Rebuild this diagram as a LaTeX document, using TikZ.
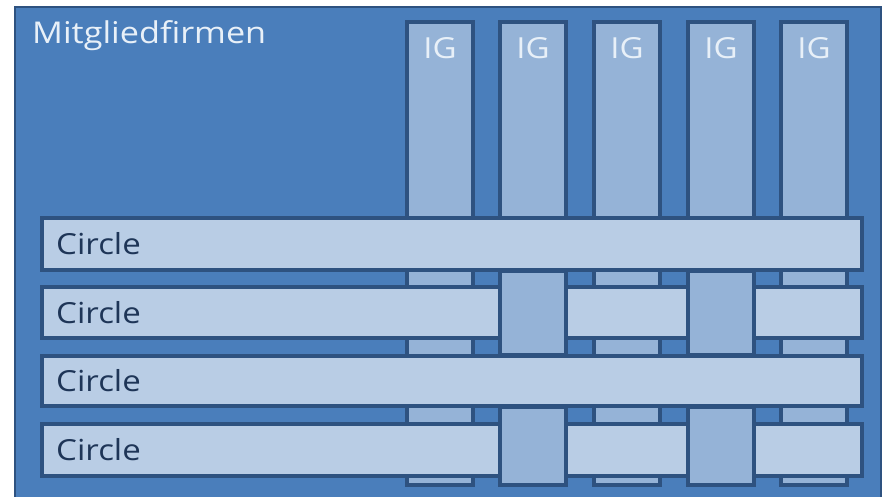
\documentclass[tikz,border=0pt]{standalone}
\usepackage{fontspec}
\setmainfont{Carlito}
\newfontfamily\labelfont[FakeStretch=1.14]{Open Sans}
\definecolor{bgblue}{HTML}{4A7EBB}
\definecolor{edgeblue}{HTML}{2E5280}
\definecolor{colfill}{HTML}{95B3D7}
\definecolor{circfill}{HTML}{B9CDE5}
\definecolor{navytext}{HTML}{1E3557}
\definecolor{lighttext}{HTML}{E8F0F8}
\begin{document}
\begin{tikzpicture}[x=1pt,y=-1pt,
  outerbox/.style={draw=edgeblue,line width=2pt,fill=bgblue},
  igcol/.style={draw=edgeblue,line width=3.4pt,fill=colfill},
  circrow/.style={draw=edgeblue,line width=3.4pt,fill=circfill},
  iglabel/.style={text=lighttext,font=\labelfont\fontsize{29}{32}\selectfont,inner sep=0pt},
  circlabel/.style={text=navytext,font=\labelfont\fontsize{29}{32}\selectfont,inner sep=0pt,anchor=west},
  titlelabel/.style={text=lighttext,font=\labelfont\fontsize{30}{33}\selectfont,inner sep=0pt,anchor=west}]
\useasboundingbox (0,0) rectangle (886,497);
\fill[white] (0,0) rectangle (886,497);
% outer box
\draw[outerbox] (15,7) rectangle (881,503);
\node[titlelabel] (title) at (32,36) {Mitgliedfirmen};
% IG columns
\foreach \i/\cx in {1/440,2/533,3/627,4/721,5/814}{
  \draw[igcol] (\cx-33,22) rectangle (\cx+33,485);
  \node[iglabel] (ig\i) at (\cx,48) {IG};
}
% circle rows
\foreach \j/\ty/\by in {1/218/270,2/287/338,3/356/406,4/424/476}{
  \draw[circrow] (42,\ty) rectangle (862,\by);
  \node[circlabel] (c\j) at (56,{(\ty+\by)/2}) {Circle};
}
% woven column pieces over rows 2 and 4
\foreach \cx in {533,721}{
  \draw[igcol] (\cx-33,271) rectangle (\cx+33,355);
  \draw[igcol] (\cx-33,407) rectangle (\cx+33,485);
}
\end{tikzpicture}
\end{document}
